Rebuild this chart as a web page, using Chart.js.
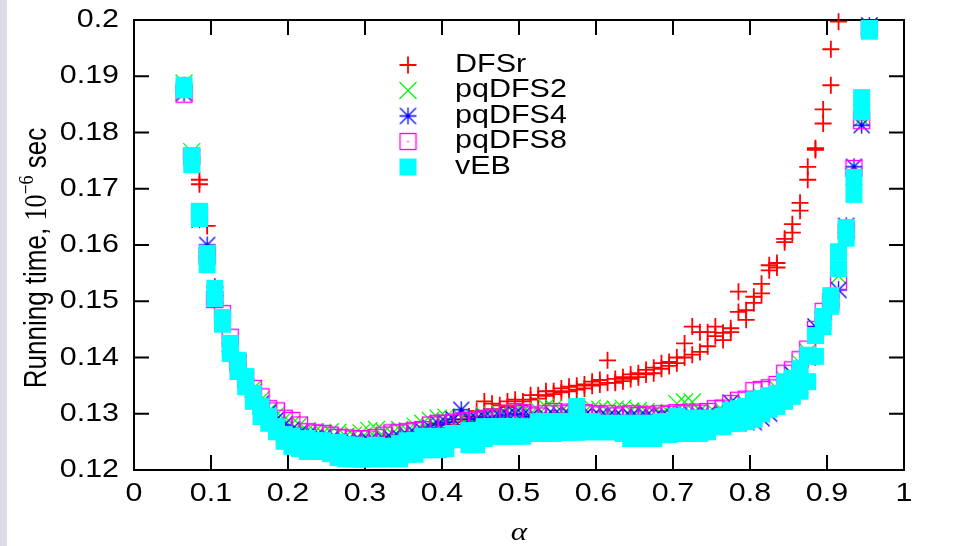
<!DOCTYPE html>
<html>
<head>
<meta charset="utf-8">
<script src="https://cdn.jsdelivr.net/npm/chart.js@4.4.0/dist/chart.umd.min.js"></script>
<style>
  body { margin: 0; background: #fff; }
</style>
</head>
<body>
<canvas id="myChart" width="954" height="546"></canvas>
<script>
const alpha = [
  0.065, 0.075, 0.085, 0.095, 0.105, 0.115, 0.125, 0.135, 0.145, 0.155,
  0.165, 0.175, 0.185, 0.195, 0.205, 0.215, 0.225, 0.235, 0.245, 0.255,
  0.265, 0.275, 0.285, 0.295, 0.305, 0.315, 0.325, 0.335, 0.345, 0.355,
  0.365, 0.375, 0.385, 0.395, 0.405, 0.415, 0.425, 0.435, 0.445, 0.455,
  0.465, 0.475, 0.485, 0.495, 0.505, 0.515, 0.525, 0.535, 0.545, 0.555,
  0.565, 0.575, 0.585, 0.595, 0.605, 0.615, 0.625, 0.635, 0.645, 0.655,
  0.665, 0.675, 0.685, 0.695, 0.705, 0.715, 0.725, 0.735, 0.745, 0.755,
  0.765, 0.775, 0.785, 0.795, 0.805, 0.815, 0.825, 0.835, 0.845, 0.855,
  0.865, 0.875, 0.885, 0.895, 0.905, 0.915, 0.925, 0.935, 0.945, 0.955
];

// two runs of DFSr (values above 0.2 are off the plot)
const dfsrRun1 = [
  0.1884, 0.1750, 0.1716, 0.1634, 0.1526, 0.1465, 0.1420, 0.1390, 0.1360, 0.1335,
  0.1310, 0.1295, 0.1280, 0.1270, 0.1265, 0.1260, 0.1258, 0.1255, 0.1255, 0.1252,
  0.1250, 0.1250, 0.1252, 0.1252, 0.1255, 0.1255, 0.1258, 0.1260, 0.1260, 0.1265,
  0.1265, 0.1270, 0.1275, 0.1280, 0.1280, 0.1285, 0.1290, 0.1295, 0.1305, 0.1322,
  0.1318, 0.1315, 0.1322, 0.1325, 0.1322, 0.1333, 0.1333, 0.1340, 0.1340, 0.1345,
  0.1348, 0.1350, 0.1352, 0.1357, 0.1360, 0.1395, 0.1362, 0.1365, 0.1370, 0.1372,
  0.1378, 0.1382, 0.1390, 0.1392, 0.1400, 0.1425, 0.1455, 0.1445, 0.1445, 0.1455,
  0.1444, 0.1452, 0.1517, 0.1484, 0.1508, 0.1531, 0.1564, 0.1568, 0.1611, 0.1637,
  0.1675, 0.1739, 0.1772, 0.1841, 0.1948, 0.1997, null, null, null, null
];
const dfsrRun2 = [
  0.1880, 0.1745, 0.1708, 0.1580, 0.1510, 0.1460, 0.1410, 0.1380, 0.1350, 0.1330,
  0.1300, 0.1290, 0.1275, 0.1265, 0.1260, 0.1255, 0.1252, 0.1250, 0.1250, 0.1248,
  0.1245, 0.1245, 0.1245, 0.1245, 0.1250, 0.1250, 0.1250, 0.1255, 0.1255, 0.1260,
  0.1260, 0.1265, 0.1270, 0.1275, 0.1275, 0.1280, 0.1285, 0.1290, 0.1295, 0.1305,
  0.1308, 0.1305, 0.1312, 0.1315, 0.1315, 0.1325, 0.1327, 0.1332, 0.1335, 0.1338,
  0.1340, 0.1343, 0.1345, 0.1350, 0.1352, 0.1355, 0.1355, 0.1358, 0.1362, 0.1365,
  0.1370, 0.1372, 0.1380, 0.1385, 0.1390, 0.1400, 0.1405, 0.1410, 0.1420, 0.1438,
  0.1431, 0.1445, 0.1481, 0.1467, 0.1497, 0.1514, 0.1555, 0.1560, 0.1605, 0.1622,
  0.1661, 0.1716, 0.1769, 0.1816, 0.1884, null, null, null, null, null
];
const pqdfs2 = [
  0.1888, 0.1766, 0.1650, 0.1580, 0.1512, 0.1465, 0.1420, 0.1390, 0.1365, 0.1345,
  0.1325, 0.1305, 0.1298, 0.1290, 0.1282, 0.1280, 0.1270, 0.1268, 0.1265, 0.1268,
  0.1267, 0.1260, 0.1262, 0.1266, 0.1270, 0.1272, 0.1268, 0.1265, 0.1272, 0.1270,
  0.1278, 0.1283, 0.1288, 0.1292, 0.1294, 0.1290, 0.1293, 0.1295, 0.1293, 0.1297,
  0.1298, 0.1300, 0.1296, 0.1302, 0.1304, 0.1300, 0.1306, 0.1312, 0.1310, 0.1305,
  0.1300, 0.1302, 0.1303, 0.1310, 0.1308, 0.1305, 0.1308, 0.1310, 0.1305, 0.1306,
  0.1304, 0.1302, 0.1300, 0.1302, 0.1318, 0.1321, 0.1321, 0.1305, 0.1300, 0.1302,
  0.1305, 0.1310, 0.1315, 0.1318, 0.1325, 0.1330, 0.1335, 0.1345, 0.1360, 0.1370,
  0.1390, 0.1410, 0.1442, 0.1465, 0.1505, 0.1545, 0.1628, 0.1722, 0.1825, 0.1990
];
const pqdfs4 = [
  0.1870, 0.1755, 0.1645, 0.1600, 0.1510, 0.1462, 0.1425, 0.1388, 0.1360, 0.1338,
  0.1318, 0.1302, 0.1290, 0.1280, 0.1272, 0.1266, 0.1262, 0.1259, 0.1257, 0.1255,
  0.1252, 0.1250, 0.1250, 0.1251, 0.1252, 0.1248, 0.1254, 0.1256, 0.1258, 0.1262,
  0.1265, 0.1270, 0.1275, 0.1282, 0.1285, 0.1290, 0.1307, 0.1290, 0.1291, 0.1294,
  0.1292, 0.1296, 0.1298, 0.1300, 0.1298, 0.1295, 0.1290, 0.1295, 0.1298, 0.1296,
  0.1298, 0.1296, 0.1297, 0.1295, 0.1296, 0.1294, 0.1296, 0.1293, 0.1295, 0.1294,
  0.1296, 0.1293, 0.1296, 0.1294, 0.1297, 0.1295, 0.1298, 0.1296, 0.1299, 0.1290,
  0.1300, 0.1320, 0.1283, 0.1290, 0.1285, 0.1292, 0.1300, 0.1330, 0.1345, 0.1370,
  0.1350, 0.1400, 0.1455, 0.1470, 0.1495, 0.1520, 0.1634, 0.1739, 0.1813, 0.1990
];
const pqdfs8 = [
  0.1868, 0.1758, 0.1655, 0.1582, 0.1503, 0.1478, 0.1436, 0.1392, 0.1362, 0.1345,
  0.1330, 0.1309, 0.1305, 0.1292, 0.1288, 0.1280, 0.1268, 0.1266, 0.1265, 0.1262,
  0.1258, 0.1257, 0.1255, 0.1256, 0.1255, 0.1258, 0.1262, 0.1266, 0.1266, 0.1268,
  0.1270, 0.1272, 0.1280, 0.1283, 0.1283, 0.1285, 0.1287, 0.1288, 0.1289, 0.1292,
  0.1294, 0.1293, 0.1300, 0.1304, 0.1302, 0.1298, 0.1296, 0.1300, 0.1304, 0.1300,
  0.1303, 0.1305, 0.1302, 0.1300, 0.1298, 0.1300, 0.1296, 0.1298, 0.1300, 0.1297,
  0.1299, 0.1296, 0.1300, 0.1299, 0.1302, 0.1300, 0.1303, 0.1301, 0.1304, 0.1309,
  0.1310, 0.1318, 0.1324, 0.1326, 0.1341, 0.1343, 0.1346, 0.1352, 0.1372, 0.1378,
  0.1396, 0.1415, 0.1450, 0.1482, 0.1500, 0.1535, 0.1625, 0.1736, 0.1821, 0.1985
];
// vEB: highest and lowest of the repeated runs
const vebHigh = [
  0.1884, 0.1759, 0.1660, 0.1585, 0.1523, 0.1471, 0.1425, 0.1395, 0.1366, 0.1336,
  0.1313, 0.1295, 0.1277, 0.1263, 0.1260, 0.1256, 0.1256, 0.1252, 0.1252, 0.1249,
  0.1249, 0.1245, 0.1244, 0.1242, 0.1242, 0.1244, 0.1242, 0.1242, 0.1247, 0.1252,
  0.1252, 0.1260, 0.1260, 0.1260, 0.1260, 0.1265, 0.1265, 0.1270, 0.1270, 0.1277,
  0.1277, 0.1277, 0.1277, 0.1277, 0.1277, 0.1270, 0.1286, 0.1286, 0.1286, 0.1286,
  0.1286, 0.1313, 0.1286, 0.1286, 0.1283, 0.1283, 0.1283, 0.1283, 0.1283, 0.1283,
  0.1283, 0.1283, 0.1286, 0.1286, 0.1295, 0.1292, 0.1292, 0.1292, 0.1292, 0.1292,
  0.1295, 0.1306, 0.1309, 0.1313, 0.1324, 0.1327, 0.1332, 0.1336, 0.1357, 0.1363,
  0.1380, 0.1404, 0.1439, 0.1473, 0.1510, 0.1588, 0.1631, 0.1720, 0.1862, 0.1985
];
const vebLow = [
  0.1876, 0.1743, 0.1647, 0.1565, 0.1505, 0.1459, 0.1407, 0.1375, 0.1348, 0.1322,
  0.1295, 0.1283, 0.1268, 0.1251, 0.1242, 0.1238, 0.1233, 0.1233, 0.1233, 0.1229,
  0.1222, 0.1220, 0.1220, 0.1219, 0.1220, 0.1220, 0.1220, 0.1222, 0.1220, 0.1228,
  0.1228, 0.1236, 0.1236, 0.1236, 0.1238, 0.1254, 0.1254, 0.1245, 0.1245, 0.1256,
  0.1260, 0.1260, 0.1260, 0.1260, 0.1260, 0.1265, 0.1265, 0.1265, 0.1265, 0.1267,
  0.1267, 0.1267, 0.1268, 0.1268, 0.1268, 0.1268, 0.1268, 0.1265, 0.1256, 0.1256,
  0.1256, 0.1256, 0.1263, 0.1263, 0.1265, 0.1265, 0.1265, 0.1265, 0.1268, 0.1277,
  0.1277, 0.1283, 0.1283, 0.1286, 0.1290, 0.1300, 0.1308, 0.1313, 0.1322, 0.1331,
  0.1340, 0.1357, 0.1402, 0.1455, 0.1491, 0.1558, 0.1612, 0.1690, 0.1837, 0.1980
];

const seriesNames = ['DFSr', 'pqDFS2', 'pqDFS4', 'pqDFS8', 'vEB'];
const seriesColors = ['#ff0000', '#00ff00', '#0000ff', '#ff00ff', '#00ffff'];

function toPoints(ys) {
  return alpha.map((x, i) => ({ x: x, y: ys[i] })).filter(p => p.y !== null);
}

function makeStar(color) {
  const c = document.createElement('canvas');
  c.width = 19; c.height = 19;
  const g = c.getContext('2d');
  g.strokeStyle = color;
  g.lineWidth = 1.3;
  g.beginPath();
  g.moveTo(1, 9.5); g.lineTo(18, 9.5);
  g.moveTo(9.5, 1); g.lineTo(9.5, 18);
  g.moveTo(1.5, 1.5); g.lineTo(17.5, 17.5);
  g.moveTo(17.5, 1.5); g.lineTo(1.5, 17.5);
  g.stroke();
  return c;
}

function makeBoxDot(color) {
  const c = document.createElement('canvas');
  c.width = 19; c.height = 19;
  const g = c.getContext('2d');
  g.strokeStyle = color;
  g.fillStyle = color;
  g.lineWidth = 1.3;
  g.strokeRect(1.5, 1.5, 16, 16);
  g.fillRect(8.75, 8.75, 1.5, 1.5);
  return c;
}

const starMark = makeStar(seriesColors[2]);
const boxMark = makeBoxDot(seriesColors[3]);

function stretchedText(ctx, text, x, y, font, align, sx) {
  ctx.save();
  ctx.font = font;
  ctx.translate(x, y);
  ctx.scale(sx, 1);
  ctx.textAlign = align;
  ctx.textBaseline = 'middle';
  ctx.fillStyle = '#000';
  ctx.fillText(text, 0, 0);
  ctx.restore();
}

function drawLegendMark(ctx, i, x, y) {
  ctx.save();
  ctx.strokeStyle = seriesColors[i];
  ctx.fillStyle = seriesColors[i];
  ctx.beginPath();
  if (i === 0) {
    ctx.lineWidth = 1.8;
    ctx.moveTo(x - 8.5, y); ctx.lineTo(x + 8.5, y);
    ctx.moveTo(x, y - 8.5); ctx.lineTo(x, y + 8.5);
    ctx.stroke();
  } else if (i === 1) {
    ctx.lineWidth = 1.3;
    ctx.moveTo(x - 8.5, y - 8.5); ctx.lineTo(x + 8.5, y + 8.5);
    ctx.moveTo(x + 8.5, y - 8.5); ctx.lineTo(x - 8.5, y + 8.5);
    ctx.stroke();
  } else if (i === 2) {
    ctx.drawImage(starMark, x - 9.5, y - 9.5);
  } else if (i === 3) {
    ctx.drawImage(boxMark, x - 9.5, y - 9.5);
  } else {
    ctx.fillRect(x - 8.5, y - 8.5, 17, 17);
  }
  ctx.restore();
}

const gnuplotFrame = {
  id: 'gnuplotFrame',
  beforeDraw(chart) {
    const ctx = chart.ctx;
    ctx.save();
    ctx.fillStyle = '#dcdce8';
    ctx.fillRect(0, 0, 7, chart.height);
    ctx.restore();
  },
  beforeDatasetsDraw(chart) {
    const ctx = chart.ctx;
    const a = chart.chartArea;
    const xs = chart.scales.x;
    const ys = chart.scales.y;
    const len = 15;
    ctx.save();
    ctx.strokeStyle = '#000';
    ctx.lineWidth = 2;
    ctx.beginPath();
    xs.ticks.forEach(t => {
      const px = xs.getPixelForValue(t.value);
      ctx.moveTo(px, a.bottom); ctx.lineTo(px, a.bottom - len);
      ctx.moveTo(px, a.top); ctx.lineTo(px, a.top + len);
    });
    ys.ticks.forEach(t => {
      const py = ys.getPixelForValue(t.value);
      ctx.moveTo(a.left, py); ctx.lineTo(a.left + len, py);
      ctx.moveTo(a.right, py); ctx.lineTo(a.right - len, py);
    });
    ctx.stroke();
    ctx.strokeRect(a.left, a.top, a.right - a.left, a.bottom - a.top);
    ctx.restore();
  },
  afterDraw(chart) {
    const ctx = chart.ctx;
    const a = chart.chartArea;
    const xs = chart.scales.x;
    const ys = chart.scales.y;
    const tickFont = '26px "Liberation Sans"';

    xs.ticks.forEach(t => {
      const label = String(Math.round(t.value * 10) / 10);
      stretchedText(ctx, label, xs.getPixelForValue(t.value), a.bottom + 24, tickFont, 'center', 1.17);
    });
    ys.ticks.forEach(t => {
      const label = String(Math.round(t.value * 100) / 100);
      stretchedText(ctx, label, a.left - 15, ys.getPixelForValue(t.value), tickFont, 'right', 1.17);
    });

    // legend, gnuplot style
    seriesNames.forEach((name, i) => {
      const y = 65 + i * 25.5;
      drawLegendMark(ctx, i, 408, y);
      stretchedText(ctx, name, 455, y, '25px "Liberation Sans"', 'left', 1.22);
    });

    // x title
    stretchedText(ctx, '\u03b1', (a.left + a.right) / 2, 533, 'italic 26px "Liberation Serif"', 'center', 1.2);

    // y title with superscript
    const parts = [
      { t: 'Running time, ', font: '26px "Liberation Sans"', dy: 0 },
      { t: '10', font: '26px "Liberation Serif"', dy: 0 },
      { t: '\u22126', font: '18px "Liberation Serif"', dy: -11 },
      { t: ' sec', font: '26px "Liberation Sans"', dy: 0 }
    ];
    ctx.save();
    let total = 0;
    parts.forEach(p => { ctx.font = p.font; p.w = ctx.measureText(p.t).width; total += p.w; });
    ctx.translate(46, 258);
    ctx.rotate(-Math.PI / 2);
    ctx.scale(1, 1.2);
    ctx.fillStyle = '#000';
    ctx.textBaseline = 'alphabetic';
    let pos = -total / 2;
    parts.forEach(p => {
      ctx.font = p.font;
      ctx.fillText(p.t, pos, p.dy);
      pos += p.w;
    });
    ctx.restore();
  }
};

window.onload = () => {
  const ctx = document.getElementById('myChart');
  const common = { showLine: false, clip: false, pointHoverRadius: 0 };

  new Chart(ctx, {
    type: 'scatter',
    data: {
      datasets: [
        { ...common, label: 'DFSr', data: toPoints(dfsrRun1), order: 5, pointStyle: 'cross', pointRadius: 8.5, borderColor: seriesColors[0], borderWidth: 1.8 },
        { ...common, label: 'DFSr', data: toPoints(dfsrRun2), order: 5, pointStyle: 'cross', pointRadius: 8.5, borderColor: seriesColors[0], borderWidth: 1.8 },
        { ...common, label: 'pqDFS2', data: toPoints(pqdfs2), order: 4, pointStyle: 'crossRot', pointRadius: 12, borderColor: seriesColors[1], borderWidth: 1.3 },
        { ...common, label: 'pqDFS4', data: toPoints(pqdfs4), order: 3, pointStyle: starMark, pointRadius: 9 },
        { ...common, label: 'pqDFS8', data: toPoints(pqdfs8), order: 2, pointStyle: boxMark, pointRadius: 9 },
        { ...common, label: 'vEB', data: toPoints(vebLow), order: 1, pointStyle: 'rect', pointRadius: 12, backgroundColor: seriesColors[4], borderWidth: 0 },
        { ...common, label: 'vEB', data: toPoints(vebHigh), order: 1, pointStyle: 'rect', pointRadius: 12, backgroundColor: seriesColors[4], borderWidth: 0 }
      ]
    },
    options: {
      responsive: false,
      animation: false,
      events: [],
      layout: { padding: { top: 20, right: 50, bottom: 0, left: 0 }, autoPadding: false },
      plugins: { legend: { display: false }, tooltip: { enabled: false } },
      scales: {
        x: {
          type: 'linear', min: 0, max: 1,
          ticks: { stepSize: 0.1, display: false },
          grid: { display: false, drawTicks: false },
          border: { display: false },
          afterFit: s => { s.height = 76; }
        },
        y: {
          type: 'linear', min: 0.12, max: 0.2,
          ticks: { stepSize: 0.01, display: false },
          grid: { display: false, drawTicks: false },
          border: { display: false },
          afterFit: s => { s.width = 134; }
        }
      }
    },
    plugins: [gnuplotFrame]
  });
};
</script>
</body>
</html>
